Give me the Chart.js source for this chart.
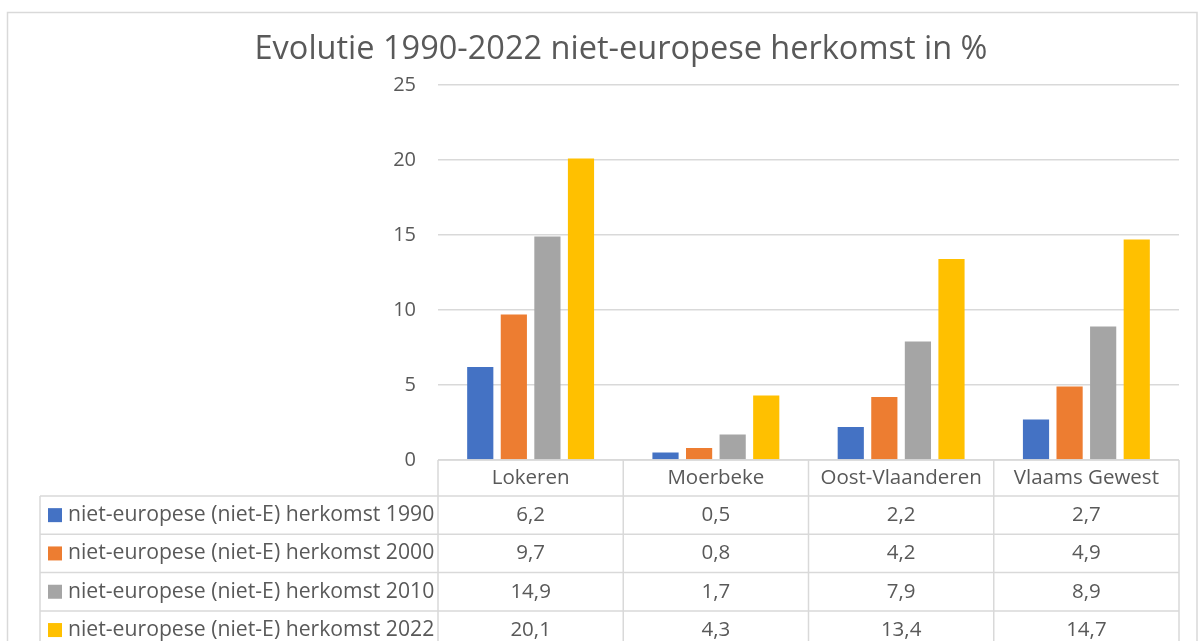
<!DOCTYPE html>
<html>
<head>
<meta charset="utf-8">
<script src="https://cdn.jsdelivr.net/npm/chart.js@4/dist/chart.umd.min.js"></script>
<style>
html,body{margin:0;padding:0;background:#fff;}
canvas{display:block;}
</style>
</head>
<body>
<canvas id="c" width="1202" height="641"></canvas>
<script>
const chartTitle = "Evolutie 1990-2022 niet-europese herkomst in %";
const categories = ["Lokeren", "Moerbeke", "Oost-Vlaanderen", "Vlaams Gewest"];
const seriesNames = [
  "niet-europese (niet-E) herkomst 1990",
  "niet-europese (niet-E) herkomst 2000",
  "niet-europese (niet-E) herkomst 2010",
  "niet-europese (niet-E) herkomst 2022"
];
const values1990 = [6.2, 0.5, 2.2, 2.7];
const values2000 = [9.7, 0.8, 4.2, 4.9];
const values2010 = [14.9, 1.7, 7.9, 8.9];
const values2022 = [20.1, 4.3, 13.4, 14.7];
const yTicks = [0, 5, 10, 15, 20, 25];
const seriesColors = ["#4472C4", "#ED7D31", "#A5A5A5", "#FFC000"];

const allValues = [values1990, values2000, values2010, values2022];
const FONT = "'Open Sans', 'Liberation Sans', sans-serif";
const TEXT = "#595959";
const LINE = "#d9d9d9";

function fmt(v){ return v.toFixed(1).replace('.', ','); }

const tablePlugin = {
  id: 'tablePlugin',
  afterDraw(chart){
    const ctx = chart.ctx;
    const x = chart.scales.x;
    const area = chart.chartArea;
    const n = categories.length;
    const colW = (area.right - area.left) / n;
    const top = area.bottom;
    const headerH = 36;
    const rowH = 38.3;
    const legendLeft = 40;
    ctx.save();
    ctx.strokeStyle = LINE;
    ctx.lineWidth = 1.5;
    ctx.strokeRect(7.5, 12.5, 1189.5, 700);
    ctx.fillStyle = TEXT;
    ctx.font = "32.5px " + FONT;
    ctx.textAlign = 'center';
    ctx.textBaseline = 'middle';
    ctx.fillText(chartTitle, 621, 50);
    ctx.strokeStyle = LINE;
    ctx.lineWidth = 1.5;
    ctx.beginPath();
    ctx.moveTo(area.left, top); ctx.lineTo(area.right, top);
    const rowsTop = top + headerH;
    for (let r = 0; r <= seriesNames.length; r++){
      const yy = rowsTop + r * rowH;
      ctx.moveTo(legendLeft, yy); ctx.lineTo(area.right, yy);
    }
    for (let i = 0; i <= n; i++){
      const xx = area.left + i * colW;
      ctx.moveTo(xx, top); ctx.lineTo(xx, rowsTop + seriesNames.length * rowH + 5);
    }
    ctx.moveTo(legendLeft, rowsTop); ctx.lineTo(legendLeft, rowsTop + seriesNames.length * rowH + 5);
    ctx.stroke();
    ctx.fillStyle = TEXT;
    ctx.font = "20.5px " + FONT;
    ctx.textAlign = 'center';
    ctx.textBaseline = 'middle';
    categories.forEach((c, i) => {
      ctx.fillText(c, x.getPixelForValue(i), top + headerH / 2);
    });
    seriesNames.forEach((name, r) => {
      const cy = rowsTop + r * rowH + rowH / 2;
      ctx.fillStyle = seriesColors[r];
      ctx.fillRect(48, cy - 7, 14, 14);
      ctx.fillStyle = TEXT;
      ctx.textAlign = 'left';
      ctx.font = "21.2px " + FONT;
      ctx.fillText(name, 68, cy);
      ctx.textAlign = 'center';
      ctx.font = "20.5px " + FONT;
      allValues[r].forEach((v, i) => {
        ctx.fillText(fmt(v), x.getPixelForValue(i), cy);
      });
    });
    ctx.restore();
  }
};

new Chart(document.getElementById('c'), {
  type: 'bar',
  data: {
    labels: categories,
    datasets: seriesNames.map((name, i) => ({
      label: name,
      data: allValues[i],
      backgroundColor: seriesColors[i],
      borderWidth: 0,
      categoryPercentage: 0.725,
      barPercentage: 0.78
    }))
  },
  options: {
    responsive: false,
    animation: false,
    events: [],
    layout: { padding: { left: 0, top: 85, right: 23, bottom: 181 } },
    plugins: {
      legend: { display: false },
      title: { display: false },
      tooltip: { enabled: false }
    },
    scales: {
      x: {
        afterFit(scale){ scale.height = 0; },
        ticks: { display: false },
        grid: { display: false },
        border: { display: false }
      },
      y: {
        min: 0, max: 25,
        afterFit(scale){ scale.width = 438; },
        afterBuildTicks(scale){ scale.ticks = yTicks.map(v => ({ value: v })); },
        ticks: { color: TEXT, font: { family: FONT, size: 20 }, padding: 22 },
        grid: { color: LINE, lineWidth: 1.5, drawTicks: false },
        border: { display: false }
      }
    }
  },
  plugins: [tablePlugin]
});
</script>
</body>
</html>
